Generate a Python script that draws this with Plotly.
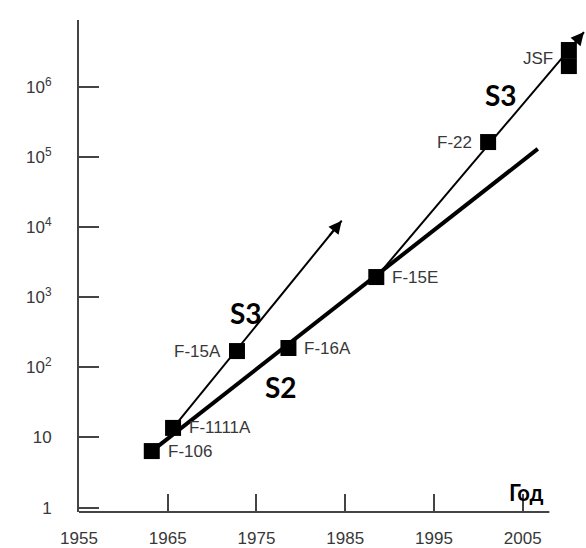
import math
import plotly.graph_objects as go

# ---- data ----
aircraft = ["F-106", "F-1111A", "F-15A", "F-16A", "F-15E", "F-22", "JSF", "JSF"]
years = [1963.2, 1965.6, 1972.8, 1978.6, 1988.5, 2001.1, 2010.2, 2010.2]
values = [6.4, 13.7, 171, 189, 1945, 1.64e5, 3.37e6, 1.99e6]

# trend lines (start -> end)
s2_years = [1963.2, 2006.7]
s2_values = [6.4, 1.31e5]
s3a_years = [1965.6, 1984.6]
s3a_values = [13.7, 1.24e4]
s3b_years = [1988.5, 2011.9]
s3b_values = [1945, 6.08e6]

x_ticks = [1955, 1965, 1975, 1985, 1995, 2005]
y_ticks = [1, 10, 100, 1000, 1e4, 1e5, 1e6]
y_ticktext = ["1", "10", "10<sup>2</sup>", "10<sup>3</sup>", "10<sup>4</sup>",
              "10<sup>5</sup>", "10<sup>6</sup>"]

# label side for each aircraft: (xanchor, xshift)
label_side = {"F-106": ("left", 14), "F-1111A": ("left", 14), "F-15A": ("right", -14),
              "F-16A": ("left", 14), "F-15E": ("left", 14), "F-22": ("right", -14),
              "JSF": ("right", -14)}

TXT = "#383838"
AX = "#444444"
FONT = "Liberation Sans, Arial, sans-serif"
BOLD = "Lato, Calibri, sans-serif"

fig = go.Figure()

fig.add_trace(go.Scatter(x=s2_years, y=s2_values, mode="lines",
                         line=dict(color="black", width=4), showlegend=False))
fig.add_trace(go.Scatter(x=s3a_years, y=s3a_values, mode="lines",
                         line=dict(color="black", width=2), showlegend=False))
fig.add_trace(go.Scatter(x=s3b_years, y=s3b_values, mode="lines",
                         line=dict(color="black", width=2), showlegend=False))
fig.add_trace(go.Scatter(x=years, y=values, mode="markers",
                         marker=dict(symbol="square", size=16, color="black"),
                         cliponaxis=False, showlegend=False))

anns = []
seen = set()
for name, xv, yv in zip(aircraft, years, values):
    if name in seen:
        continue
    seen.add(name)
    if name == "JSF":
        yv = math.sqrt(values[-1] * values[-2])
    anchor, shift = label_side[name]
    anns.append(dict(x=xv, y=math.log10(yv), text=name, showarrow=False,
                     xanchor=anchor, xshift=shift, yanchor="middle",
                     font=dict(family=FONT, size=17, color=TXT)))

# arrowheads at ends of S3 lines
for xs, ys in [(s3a_years, s3a_values), (s3b_years, s3b_values)]:
    t = 0.92
    bx = xs[0] + (xs[1] - xs[0]) * t
    by = math.log10(ys[0]) + (math.log10(ys[1]) - math.log10(ys[0])) * t
    anns.append(dict(x=xs[1], y=math.log10(ys[1]), ax=bx, ay=by, axref="x", ayref="y",
                     xref="x", yref="y", showarrow=True, arrowhead=2, arrowsize=1.3,
                     arrowwidth=2, arrowcolor="black", text="", standoff=0))

# S-labels
for txt, xv, yv in [("S3", 1973.8, 2.78), ("S2", 1977.8, 1.72), ("S3", 2002.5, 5.88)]:
    anns.append(dict(x=xv, y=yv, text="<b>" + txt + "</b>", showarrow=False,
                     font=dict(family=BOLD, size=28, color="black")))

anns.append(dict(x=2005.4, y=0.22, text="<b>Год</b>", showarrow=False,
                 font=dict(family=BOLD, size=22, color="black")))

fig.update_layout(
    width=586, height=548,
    margin=dict(l=79, r=0, t=20, b=36),
    paper_bgcolor="white", plot_bgcolor="white",
    annotations=anns,
    shapes=[dict(type="line", xref="x", yref="paper", x0=1955, x1=2008, y0=0, y1=0,
                 line=dict(color=AX, width=2))],
    xaxis=dict(range=[1955, 2012.13], tickvals=x_ticks, ticks="inside", ticklen=18,
               tickwidth=2, tickcolor=AX, showgrid=False, zeroline=False, showline=False,
               ticklabelstandoff=14,
               tickfont=dict(family=FONT, size=17, color=TXT)),
    yaxis=dict(type="log", range=[-0.063, 6.956], tickvals=y_ticks, ticktext=y_ticktext,
               ticks="inside", ticklen=20, tickwidth=2, tickcolor=AX, showgrid=False,
               zeroline=False, showline=True, linecolor=AX, linewidth=2,
               ticklabelstandoff=22,
               tickfont=dict(family=FONT, size=17, color=TXT)),
)

fig.write_html("out.html")
